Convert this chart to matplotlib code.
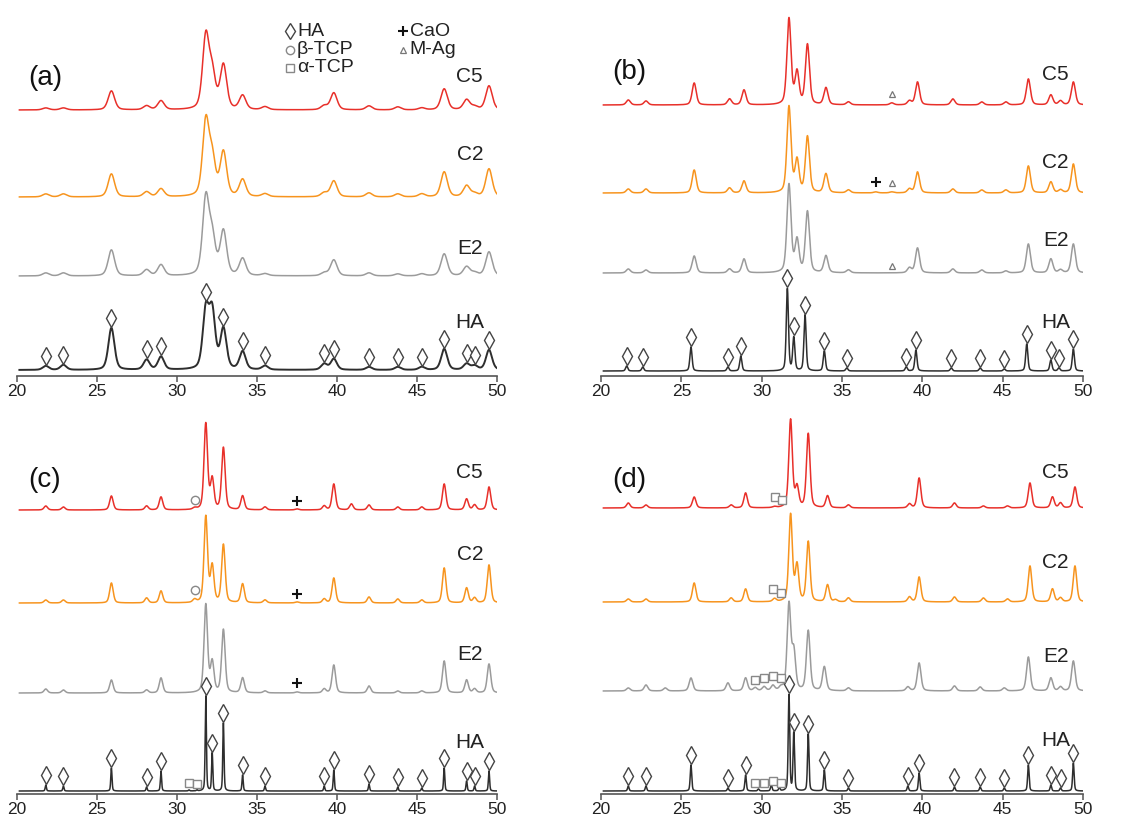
import numpy as np
import matplotlib.pyplot as plt

plt.rcParams['font.family'] = ['Liberation Sans', 'DejaVu Sans']

# ---- data (2theta in deg, intensity in arbitrary units) ----
# HA reflections
pos_a = [21.8, 22.9, 25.9, 28.1, 29.0, 31.8, 32.2, 32.9, 34.1, 35.5, 39.2, 39.8, 42.0, 43.8, 45.3, 46.7, 48.1, 48.6, 49.5]
pos_b = [21.7, 22.8, 25.8, 28.0, 28.9, 31.7, 32.2, 32.85, 34.0, 35.4, 39.2, 39.7, 41.9, 43.7, 45.2, 46.6, 48.0, 48.6, 49.4]
pos_b_ha = [21.6, 22.6, 25.6, 27.9, 28.7, 31.6, 32.0, 32.7, 33.9, 35.3, 39.0, 39.6, 41.8, 43.6, 45.1, 46.5, 48.0, 48.5, 49.4]
pos_c = pos_a
pos_d = [21.7, 22.8, 25.8, 28.1, 29.0, 31.8, 32.2, 32.9, 34.1, 35.4, 39.2, 39.8, 42.0, 43.8, 45.3, 46.7, 48.1, 48.6, 49.5]
pos_d_ha = [21.7, 22.8, 25.6, 27.9, 29.0, 31.7, 32.0, 32.9, 33.9, 35.4, 39.1, 39.8, 42.0, 43.6, 45.1, 46.6, 48.0, 48.6, 49.4]

# panel (a)
a_c5 = [2, 2, 19, 4, 9, 72, 34, 44, 14, 3, 4, 17, 4, 3, 2, 21, 10, 3, 24]
a_c2 = [3, 3, 23, 5, 8, 74, 36, 44, 17, 3, 4, 16, 4, 3, 3, 25, 11, 3, 28]
a_e2 = [3, 3, 26, 6, 11, 76, 36, 44, 17, 2, 3, 16, 3, 2, 2, 22, 9, 3, 24]
a_ha = [4, 5, 42, 10, 13, 58, 56, 40, 18, 4, 6, 11, 3, 3, 3, 21, 6, 4, 20]
# panel (b)
b_c5 = [5, 4, 22, 6, 15, 86, 32, 60, 17, 3, 4, 23, 6, 3, 3, 26, 10, 4, 23]
b_c2 = [4, 4, 23, 5, 12, 86, 32, 56, 19, 3, 4, 21, 4, 3, 3, 27, 11, 3, 29]
b_e2 = [4, 3, 17, 4, 14, 88, 32, 61, 17, 3, 5, 25, 4, 3, 2, 29, 14, 3, 29]
b_ha = [5, 4, 24, 4, 15, 82, 33, 56, 20, 3, 4, 21, 3, 3, 2, 27, 11, 3, 22]
# panel (c)
c_c5 = [4, 3, 14, 4, 13, 86, 30, 62, 14, 3, 4, 26, 5, 3, 3, 26, 11, 5, 23]
c_c2 = [3, 3, 20, 5, 12, 86, 36, 58, 19, 3, 4, 25, 6, 4, 3, 35, 15, 5, 38]
c_e2 = [4, 3, 13, 3, 15, 88, 30, 63, 15, 2, 4, 28, 7, 2, 2, 32, 13, 4, 29]
c_ha = [6, 5, 23, 4, 20, 95, 38, 68, 16, 5, 5, 21, 7, 4, 3, 23, 10, 5, 20]
# panel (d)
d_c5 = [5, 3, 11, 3, 15, 88, 20, 74, 12, 3, 4, 30, 5, 2, 2, 25, 11, 5, 21]
d_c2 = [3, 3, 19, 4, 13, 87, 36, 60, 17, 4, 5, 25, 5, 4, 3, 36, 13, 4, 36]
d_e2 = [3, 6, 13, 8, 13, 86, 38, 60, 24, 3, 4, 28, 5, 4, 3, 34, 13, 4, 30]
d_ha = [5, 5, 26, 3, 16, 96, 58, 57, 21, 3, 5, 18, 4, 4, 3, 26, 6, 3, 28]

# minor phases (position, intensity)
c_c5_extra = [(31.1, 1.5), (37.5, 1), (40.9, 6)]
c_c2_extra = [(31.1, 3), (37.5, 1)]
c_e2_extra = [(37.5, 1)]
c_ha_extra = [(30.75, 1), (31.25, 1)]
d_c5_extra = [(30.8, 1)]
d_c2_extra = [(30.8, 3), (34.6, 2)]
d_e2_extra = [(24.0, 3), (29.6, 3), (30.15, 4), (30.7, 5), (31.2, 3)]
d_ha_extra = [(29.8, 2), (30.6, 6), (31.1, 3)]
b_c5_extra = [(38.1, 2)]
b_c2_extra = [(37.1, 1), (38.1, 1)]

series_names = ['C5', 'C2', 'E2', 'HA']
colors = ['#e8302a', '#f7941e', '#9b9b9b', '#2e2e2e']

two_theta = np.linspace(20.15, 50, 4000)


def pattern(x, pos, amp, fwhm, eta=0.4):
    y = np.zeros_like(x)
    for p, a in zip(pos, amp):
        d = (x - p) / fwhm
        y += a * ((1 - eta) * np.exp(-4 * np.log(2) * d ** 2) + eta / (1 + 4 * d ** 2))
    return y


def with_extra(pos, amp, extra):
    return list(pos) + [e[0] for e in extra], list(amp) + [e[1] for e in extra]


panels = [
    dict(tag='(a)', rect=[17, 376, 480, 376],
         pos=[pos_a, pos_a, pos_a, pos_a], amp=[a_c5, a_c2, a_e2, a_ha],
         extra=[[], [], [], []], fwhm=[0.48, 0.48, 0.48, 0.45],
         base=[266, 179, 100, 6], label_y=[299, 221, 128, 54],
         diamonds=[p for p in pos_a if p != 32.2], tag_y=298,
         marks=[]),
    dict(tag='(b)', rect=[601, 376, 482, 376],
         pos=[pos_b, pos_b, pos_b, pos_b_ha], amp=[b_c5, b_c2, b_e2, b_ha],
         extra=[b_c5_extra, b_c2_extra, [], []], fwhm=[0.3, 0.3, 0.3, 0.16],
         base=[271, 183, 103, 5], label_y=[301, 214, 136, 53],
         diamonds=pos_b_ha, tag_y=304,
         marks=[('^', 0, 38.1, 9), ('+', 1, 37.1, 10), ('^', 1, 38.1, 9), ('^', 2, 38.1, 7)]),
    dict(tag='(c)', rect=[17, 794, 480, 394],
         pos=[pos_c, pos_c, pos_c, pos_c], amp=[c_c5, c_c2, c_e2, c_ha],
         extra=[c_c5_extra, c_c2_extra, c_e2_extra, c_ha_extra], fwhm=[0.26, 0.26, 0.26, 0.09],
         base=[284, 191, 101, 3], label_y=[322, 239, 139, 52],
         diamonds=pos_c, tag_y=314,
         marks=[('o', 0, 31.1, 7), ('o', 1, 31.1, 8), ('+', 0, 37.5, 8), ('+', 1, 37.5, 8),
                ('+', 2, 37.5, 9), ('s', 3, 30.75, 7), ('s', 3, 31.25, 6)]),
    dict(tag='(d)', rect=[601, 794, 482, 394],
         pos=[pos_d, pos_d, pos_d_ha, pos_d_ha], amp=[d_c5, d_c2, d_e2, d_ha],
         extra=[d_c5_extra, d_c2_extra, d_e2_extra, d_ha_extra], fwhm=[0.26, 0.26, 0.27, 0.11],
         base=[286, 192, 103, 3], label_y=[322, 232, 138, 54],
         diamonds=pos_d_ha, tag_y=314,
         marks=[('s', 0, 30.83, 9), ('s', 0, 31.27, 6), ('s', 1, 30.7, 10), ('s', 1, 31.2, 7),
                ('s', 2, 29.6, 7), ('s', 2, 30.15, 8), ('s', 2, 30.7, 9), ('s', 2, 31.2, 7),
                ('s', 3, 29.6, 8), ('s', 3, 30.15, 8), ('s', 3, 30.7, 9), ('s', 3, 31.2, 7)]),
]

W, H = 1138, 818
fig = plt.figure(figsize=(W / 100, H / 100), dpi=100)

mstyle = {'d': dict(ms=9, mec='#444444', mew=1.0),
          '^': dict(ms=5, mec='#777777', mew=0.9),
          '+': dict(ms=7, mec='#111111', mew=1.5),
          'o': dict(ms=6, mec='#888888', mew=1.0),
          's': dict(ms=6, mec='#888888', mew=1.0)}

for pnl in panels:
    x0, yb, w, h = pnl['rect']
    ax = fig.add_axes([x0 / W, 1 - yb / H, w / W, h / H])
    ax.set_xlim(20, 50)
    ax.set_ylim(0, h)
    curves = []
    for i in range(4):
        p, a = with_extra(pnl['pos'][i], pnl['amp'][i], pnl['extra'][i])
        y = pnl['base'][i] + pattern(two_theta, p, a, pnl['fwhm'][i])
        curves.append(y)
        lw = 1.4 if (i == 3 and pnl['tag'] == '(a)') else 1.1
        ax.plot(two_theta, y, color=colors[i], lw=lw, zorder=2)
        ax.text(48.3, pnl['label_y'][i], series_names[i], fontsize=15,
                ha='center', va='center', color='#222222')
    # HA reflections
    dy = np.interp(pnl['diamonds'], two_theta, curves[3]) + 10
    ax.plot(pnl['diamonds'], dy, ls='none', marker='d', mfc='white', zorder=3,
            clip_on=False, **mstyle['d'])
    for m, i, xm, gap in pnl['marks']:
        ym = np.interp(xm, two_theta, curves[i]) + gap
        ax.plot([xm], [ym], ls='none', marker=m, mfc='white', zorder=3, **mstyle[m])
    ax.text(21.75, pnl['tag_y'], pnl['tag'], fontsize=20, ha='center', va='center',
            color='#111111')

    for s in ['left', 'right', 'top']:
        ax.spines[s].set_visible(False)
    ax.spines['bottom'].set_color('#555555')
    ax.spines['bottom'].set_linewidth(1.2)
    ax.set_yticks([])
    ax.set_xticks(np.arange(20, 51, 5))
    ax.tick_params(axis='x', direction='out', length=4.5, width=1.1, color='#555555',
                   labelsize=12.5, pad=1, labelcolor='#222222')
    ax.patch.set_alpha(0)

    if pnl['tag'] == '(a)':
        leg = [('d', 37.05, 345, 'HA'), ('o', 37.05, 326, 'β-TCP'), ('s', 37.05, 308, 'α-TCP'),
               ('+', 44.1, 345, 'CaO'), ('^', 44.1, 326, 'M-Ag')]
        for m, xm, ym, txt in leg:
            st = dict(mstyle[m])
            if m == 'd':
                st['ms'] = 8
            ax.plot([xm], [ym], ls='none', marker=m, mfc='white', **st)
            ax.text(xm + 0.45, ym, txt, fontsize=14, ha='left', va='center', color='#222222')

fig.savefig('out.png', dpi=100)
